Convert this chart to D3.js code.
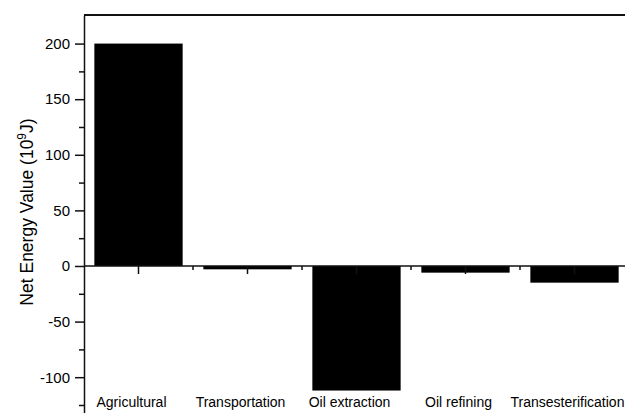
<!DOCTYPE html>
<html>
<head>
<meta charset="utf-8">
<script src="https://cdn.jsdelivr.net/npm/d3@7"></script>
<style>
  html, body { margin: 0; padding: 0; background: #fff; }
  svg { display: block; font-family: "Liberation Sans", Arial, sans-serif; }
</style>
</head>
<body>
<svg id="chart" width="625" height="413"></svg>
<script>
// Net energy per process stage (10^9 J)
const categories = ["Agricultural", "Transportation", "Oil extraction", "Oil refining", "Transesterification"];
const values = [200, -3, -112, -6, -15];
const majorTicks = [-100, -50, 0, 50, 100, 150, 200];
const minorTicks = [-125, -75, -25, 25, 75, 125, 175];

const svg = d3.select("#chart");
const W = 625, H = 413;
const plotLeft = 84, plotTop = 15;

const y = d3.scaleLinear().domain([-132.2, 225.7]).range([H, plotTop]);
const x = d3.scaleBand().domain(categories).range([plotLeft, plotLeft + 5 * 109]).paddingInner(0.19).paddingOuter(0.095);

// bars
svg.append("g").selectAll("rect")
  .data(values)
  .join("rect")
  .attr("x", (d, i) => x(categories[i]))
  .attr("width", x.bandwidth())
  .attr("y", d => y(Math.max(0, d)))
  .attr("height", d => Math.abs(y(d) - y(0)))
  .attr("fill", "#000");

// top frame line
svg.append("line")
  .attr("x1", plotLeft).attr("x2", W + 5)
  .attr("y1", plotTop).attr("y2", plotTop)
  .attr("stroke", "#111").attr("stroke-width", 2);

// y axis with major ticks (plain hyphen for negatives)
const yAxis = svg.append("g")
  .attr("transform", `translate(${plotLeft},0)`)
  .call(d3.axisLeft(y).tickValues(majorTicks).tickSize(9).tickPadding(5).tickSizeOuter(0)
    .tickFormat(d => String(d)));
yAxis.select(".domain").attr("stroke", "#111").attr("stroke-width", 1.5);
yAxis.selectAll(".tick line").attr("stroke", "#111").attr("stroke-width", 1.5);
yAxis.selectAll(".tick text").attr("font-size", 15).attr("fill", "#000")
  .attr("font-family", "Liberation Sans, Arial, sans-serif");

// y minor ticks
svg.append("g")
  .attr("transform", `translate(${plotLeft},0)`)
  .call(d3.axisLeft(y).tickValues(minorTicks).tickSize(5).tickFormat(""))
  .call(g => g.select(".domain").remove())
  .selectAll(".tick line").attr("stroke", "#111").attr("stroke-width", 1.5);

// zero line with ticks at category centres
const xAxis = svg.append("g")
  .attr("transform", `translate(0,${y(0)})`)
  .call(d3.axisBottom(x).tickSize(8).tickFormat("").tickSizeOuter(0));
xAxis.select(".domain").attr("d", `M${plotLeft},0H${W + 5}`).attr("stroke", "#111").attr("stroke-width", 1.5);
xAxis.selectAll(".tick line").attr("stroke", "#111").attr("stroke-width", 1.5);

// short ticks between categories
const step = x.step();
svg.append("g").selectAll("line")
  .data(categories.slice(1))
  .join("line")
  .attr("x1", d => x(d) + x.bandwidth() / 2 - step / 2)
  .attr("x2", d => x(d) + x.bandwidth() / 2 - step / 2)
  .attr("y1", y(0)).attr("y2", y(0) + 4)
  .attr("stroke", "#111").attr("stroke-width", 1.5);

// category labels, set slightly left of the bar centres
svg.append("g").selectAll("text")
  .data(categories)
  .join("text")
  .attr("x", d => x(d) + x.bandwidth() / 2 - 7)
  .attr("y", 407)
  .attr("text-anchor", "middle")
  .attr("font-size", 14)
  .text(d => d);

// y axis title
const title = svg.append("text")
  .attr("transform", `translate(33,${212}) rotate(-90)`)
  .attr("text-anchor", "middle")
  .attr("font-size", 17.5);
title.append("tspan").text("Net Energy Value (10");
title.append("tspan").attr("dy", -7).attr("font-size", 12).text("9");
title.append("tspan").attr("dy", 7).text("J)");
</script>
</body>
</html>
